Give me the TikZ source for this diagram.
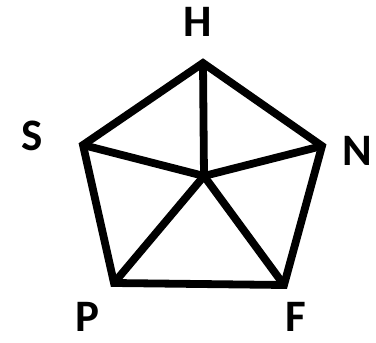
\documentclass[tikz,border=0pt]{standalone}
\usepackage{fontspec}
\setmainfont{Carlito}
\usepackage{tikz}
\usetikzlibrary{positioning}

\begin{document}
\begin{tikzpicture}[
  x=1pt, y=-1pt,
  edge/.style={draw, line width=7.8pt, line join=miter},
  lbl/.style={font=\fontsize{45}{45}\selectfont\bfseries, inner sep=0pt, anchor=center}
]
\useasboundingbox (0,0) rectangle (376,343);
% vertices of the pentagon and its centre
\coordinate (h) at (203,63);
\coordinate (n) at (322,146);
\coordinate (f) at (284,285);
\coordinate (p) at (114,283);
\coordinate (s) at (83,145);
\coordinate (c) at (204,176);

\node[lbl] (hl) at (198,22) {H};
\node[lbl] (nl) at (357,151) {N};
\node[lbl] (fl) at (296,317) {F};
\node[lbl] (pl) at (87,317) {P};
\node[lbl] (sl) at (32,136) {S};

\draw[edge] (h) -- (n) -- (f) -- (p) -- (s) -- cycle;
\draw[edge] (h) -- (c);
\draw[edge] (s) -- (c);
\draw[edge] (n) -- (c);
\draw[edge] (p) -- (c);
\draw[edge] (f) -- (c);
\end{tikzpicture}
\end{document}
